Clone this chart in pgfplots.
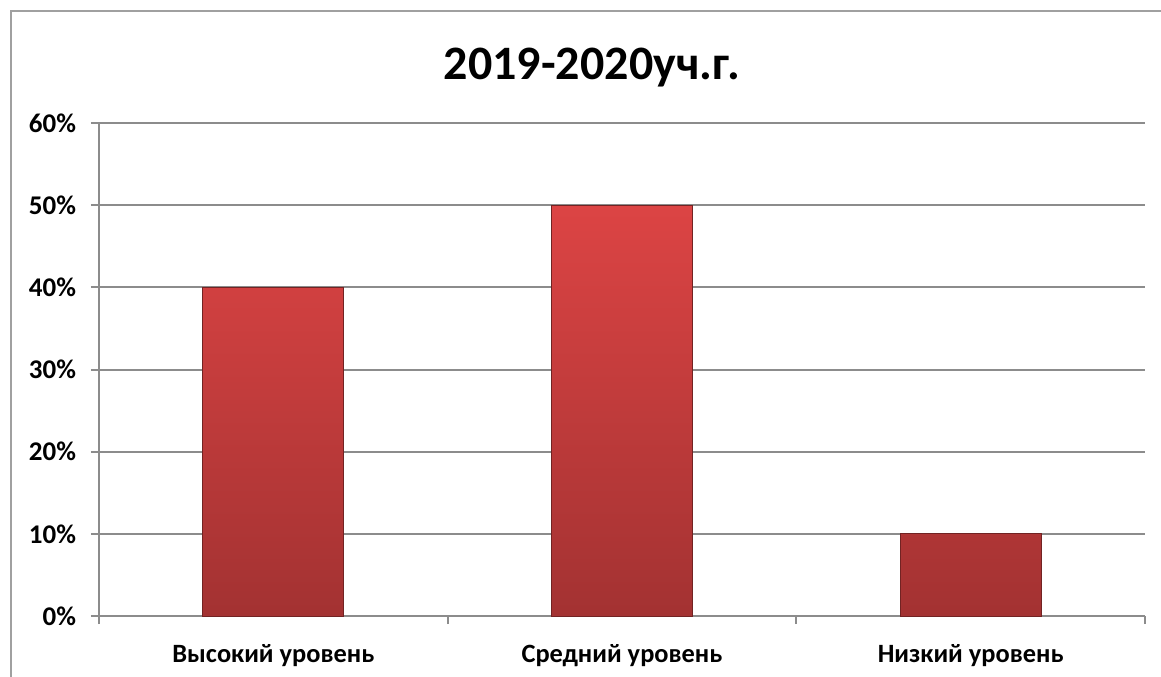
\documentclass[border=0pt]{standalone}
\usepackage{pgfplots}
\pgfplotsset{compat=1.18}
\usepackage{fontspec}
\setmainfont{Carlito}
\definecolor{axisgray}{HTML}{8C8C8C}
\definecolor{framegray}{HTML}{A0A0A0}
\definecolor{bartop}{HTML}{DC4444}
\definecolor{barbot}{HTML}{A33232}

\begin{document}
\begin{tikzpicture}
% canvas 1161x676 px, 1px = 0.5pt
\path[use as bounding box] (0,0) rectangle (580.5pt,338pt);
\draw[framegray,line width=1pt] (5.5pt,-3pt) -- (5.5pt,332.5pt) -- (584pt,332.5pt);
\node[font=\bfseries\fontsize{24}{28}\selectfont] at (296pt,304pt) {2019-2020уч.г.};
\begin{axis}[
  at={(49.5pt,30pt)}, anchor=south west,
  scale only axis,
  width=523pt, height=246.5pt,
  xmin=0, xmax=3,
  ymin=0, ymax=60,
  ytick={0,10,20,30,40,50,60},
  yticklabel={\pgfmathprintnumber{\tick}\%},
  yticklabel style={font=\bfseries\fontsize{13.5}{15}\selectfont, xshift=-4pt},
  /pgf/number format/assume math mode=true,
  xtick={0,1,2,3},
  xticklabels={},
  extra x ticks={0.5,1.5,2.5},
  extra x tick labels={Высокий уровень, Средний уровень, Низкий уровень},
  extra x tick style={major tick length=0pt, grid=none,
    xticklabel style={font=\bfseries\fontsize{13.2}{15}\selectfont, yshift=-10.5pt}},
  tick align=outside,
  major tick length=4pt,
  tick pos=left,
  ymajorgrids=true,
  grid style={axisgray,line width=1pt},
  axis line style={axisgray,line width=1pt},
  tick style={axisgray,line width=1pt},
  axis x line*=bottom,
  axis y line*=left,
  ybar,
  bar width=70.5pt,
]
\addplot[draw=barbot!70!black, line width=0.5pt, top color=bartop, bottom color=barbot]
coordinates {(0.5,40) (1.5,50) (2.5,10)};
\end{axis}
\end{tikzpicture}
\end{document}
